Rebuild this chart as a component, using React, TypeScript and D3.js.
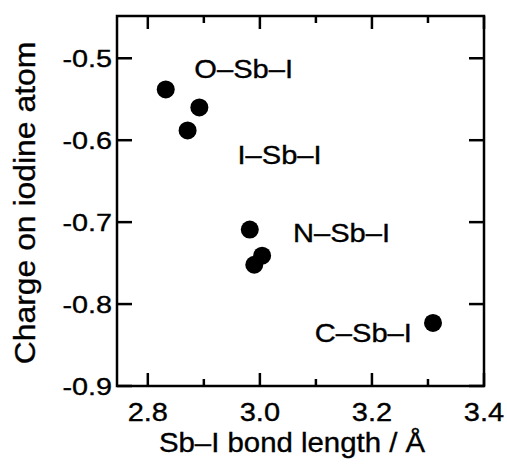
import React from "react";
import * as d3 from "d3";

const bondLength = [2.832, 2.892, 2.871, 2.982, 2.99, 3.004, 3.309];
const charge = [-0.538, -0.56, -0.588, -0.709, -0.752, -0.741, -0.823];

const labelText = ["O–Sb–I", "I–Sb–I", "N–Sb–I", "C–Sb–I"];
const labelX = [2.883, 2.96, 3.059, 3.098];
const labelY = [-0.524, -0.629, -0.724, -0.846];

const xMajor = [2.8, 3.0, 3.2, 3.4];
const xMinor = [2.9, 3.1, 3.3];
const yMajor = [-0.9, -0.8, -0.7, -0.6, -0.5];

const W = 507;
const H = 476;
const L = 117, R = 484, T = 16, B = 386;
const FONT = "'Liberation Sans', Arial, Helvetica, sans-serif";

function Txt({ x, y, size, sx = 1, anchor = "start", children, rotate = 0, dy }: any) {
  return (
    <text
      transform={`translate(${x},${y}) rotate(${rotate}) scale(${sx},1)`}
      fontSize={size}
      textAnchor={anchor}
      dy={dy}
      stroke="#000"
      strokeWidth={0.35}
    >
      {children}
    </text>
  );
}

export default function App() {
  const x = d3.scaleLinear().domain([2.745, 3.4]).range([L, R]);
  const y = d3.scaleLinear().domain([-0.9, -0.4484]).range([B, T]);
  const sw = 2.5;
  return (
    <svg width={W} height={H} style={{ position: "absolute", left: 0, top: 0, background: "#fff" }} fontFamily={FONT}>
      <rect x={0} y={0} width={W} height={H} fill="#fff" />
      {xMajor.map((v) => (
        <g key={"xm" + v}>
          <line x1={x(v)} x2={x(v)} y1={B} y2={B - 13} stroke="#000" strokeWidth={sw} />
          <line x1={x(v)} x2={x(v)} y1={T} y2={T + 13} stroke="#000" strokeWidth={sw} />
          <Txt x={x(v)} y={421} size={25} sx={1.16} anchor="middle">{d3.format(".1f")(v)}</Txt>
        </g>
      ))}
      {xMinor.map((v) => (
        <g key={"xn" + v}>
          <line x1={x(v)} x2={x(v)} y1={B} y2={B - 7} stroke="#000" strokeWidth={sw} />
          <line x1={x(v)} x2={x(v)} y1={T} y2={T + 7} stroke="#000" strokeWidth={sw} />
        </g>
      ))}
      {yMajor.map((v) => (
        <g key={"ym" + v}>
          <line x1={L} x2={L + 15} y1={y(v)} y2={y(v)} stroke="#000" strokeWidth={sw} />
          <line x1={R} x2={R - 15} y1={y(v)} y2={y(v)} stroke="#000" strokeWidth={sw} />
          <Txt x={112} y={y(v) + 8.5} size={24} sx={1.2} anchor="end">{d3.format(".1f")(v).replace("−", "-")}</Txt>
        </g>
      ))}
      <rect x={L} y={T} width={R - L} height={B - T} fill="none" stroke="#000" strokeWidth={sw} />
      {bondLength.map((v, i) => (
        <circle key={"p" + i} cx={x(v)} cy={y(charge[i])} r={9} fill="#000" />
      ))}
      {labelText.map((t, i) => (
        <Txt key={"l" + i} x={x(labelX[i])} y={y(labelY[i])} size={26} sx={1.12}>{t}</Txt>
      ))}
      <Txt x={292} y={452} size={28} sx={1.05} anchor="middle">Sb–I bond length / Å</Txt>
      <Txt x={35} y={203} size={29} sx={1.1} rotate={-90} anchor="middle">Charge on iodine atom</Txt>
    </svg>
  );
}
